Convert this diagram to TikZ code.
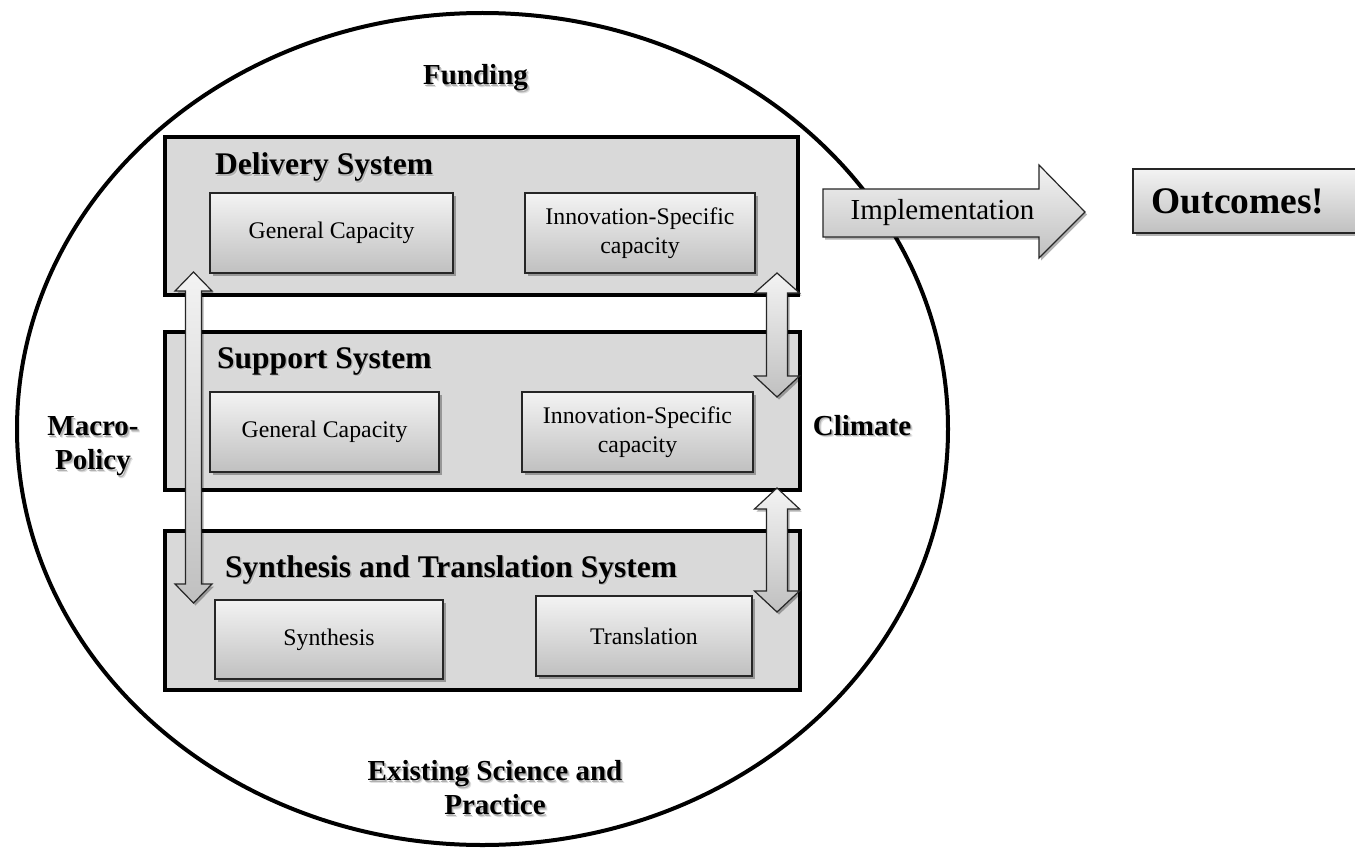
\documentclass[tikz,border=0pt]{standalone}
\usepackage{fontspec}
\setmainfont{Liberation Serif}
\usetikzlibrary{shadows}
\definecolor{boxgray}{HTML}{D9D9D9}
\definecolor{gtop}{HTML}{F3F3F3}
\definecolor{gbot}{HTML}{C0C0C0}
\newcommand{\shd}[1]{\leavevmode\rlap{\kern2.4pt\raisebox{-2.8pt}{\textcolor{black!12}{#1}}}\rlap{\kern1.4pt\raisebox{-1.7pt}{\textcolor{black!30}{#1}}}#1}
\newcommand{\vdarrow}[8]{%
  \draw[blockarrow] (#2,#5) -- (#2+#4,#6) -- (#2+#3,#6) -- (#2+#3,#7) -- (#2+#4,#7) -- (#2,#8)
    -- (#2-#4,#7) -- (#2-#3,#7) -- (#2-#3,#6) -- (#2-#4,#6) -- cycle;
  \coordinate (#1) at (#2,#5);}
\begin{document}
\begin{tikzpicture}[x=1pt,y=-1pt,
  sysbox/.style={draw=black, line width=3.5pt, fill=boxgray, inner sep=0pt,
    drop shadow={shadow xshift=1.8pt, shadow yshift=-1.8pt, opacity=.4, fill=black}},
  capbox/.style={draw=black!85, line width=1.3pt, top color=gtop, bottom color=gbot,
    inner sep=2pt, align=center, font=\fontsize{23.8}{29.5}\selectfont,
    drop shadow={shadow xshift=2.5pt, shadow yshift=-3pt, opacity=.3, fill=black}},
  hdr/.style={anchor=base west, inner sep=0pt, font=\fontsize{31.5}{36}\selectfont\bfseries},
  lbl/.style={inner sep=0pt, align=center, font=\fontsize{29}{34}\selectfont\bfseries},
  blockarrow/.style={draw=black!85, line width=1.2pt, top color=gtop, bottom color=gbot,
    drop shadow={shadow xshift=2pt, shadow yshift=-2.5pt, opacity=.3, fill=black}}]
\useasboundingbox (0,0) rectangle (1355,848);
\fill[white] (0,0) rectangle (1355,848);
\clip (0,0) rectangle (1355,848);

% big ellipse
\draw[line width=4pt] (482.5,429) ellipse [x radius=465.5, y radius=416];

% system boxes
\node[sysbox, minimum width=633, minimum height=158] (deliv) at (481.5,216) {};
\node[sysbox, minimum width=635, minimum height=158] (supp) at (482.5,411) {};
\node[sysbox, minimum width=635, minimum height=159] (synsys) at (482.5,610.5) {};

% headers
\node[hdr] (hdeliv) at (215,175) {\shd{Delivery System}};
\node[hdr] (hsupp) at (217,368) {\shd{Support System}};
\node[hdr] (hsyn) at (225,577) {\shd{Synthesis and Translation System}};

% capacity boxes
\node[capbox, minimum width=243, minimum height=80] (dgc) at (331.5,233) {General Capacity};
\node[capbox, minimum width=230, minimum height=80] (dis) at (640,233) {Innovation-Specific\\capacity};
\node[capbox, minimum width=229, minimum height=80] (sgc) at (324.5,432) {General Capacity};
\node[capbox, minimum width=231, minimum height=80] (sis) at (637.5,432) {Innovation-Specific\\capacity};
\node[capbox, minimum width=228, minimum height=79] (syn) at (329,639.5) {Synthesis};
\node[capbox, minimum width=216, minimum height=80] (tra) at (644,636) {Translation};

% double arrows
\vdarrow{la}{193.5}{8}{18.5}{272}{291}{584}{603}
\vdarrow{ra1}{777}{10.5}{22.5}{273}{293}{376}{397}
\vdarrow{ra2}{777}{10.5}{22.5}{488}{509}{591}{612}

% implementation arrow
\draw[blockarrow] (823,189) -- (1039,189) -- (1039,165) -- (1085,212) -- (1039,258) -- (1039,237) -- (823,237) -- cycle;
\node[inner sep=0pt, font=\fontsize{29}{34}\selectfont] (impl) at (942.5,213) {Implementation};

% outcomes
\node[capbox, minimum width=223, minimum height=64] (outc) at (1244.5,201) {};
\node[inner sep=0pt, font=\fontsize{37.5}{42}\selectfont\bfseries] (outtxt) at (1238,201) {Outcomes!};

% context labels
\node[lbl, anchor=base] (fund) at (475.5,85) {\shd{Funding}};
\node[lbl] (macro) at (93,448) {\shd{Macro-}\\\shd{Policy}};
\node[lbl, anchor=base] (clim) at (862,435) {\shd{Climate}};
\node[lbl] (exist) at (495,789) {\shd{Existing Science and}\\\shd{Practice}};
\end{tikzpicture}
\end{document}
